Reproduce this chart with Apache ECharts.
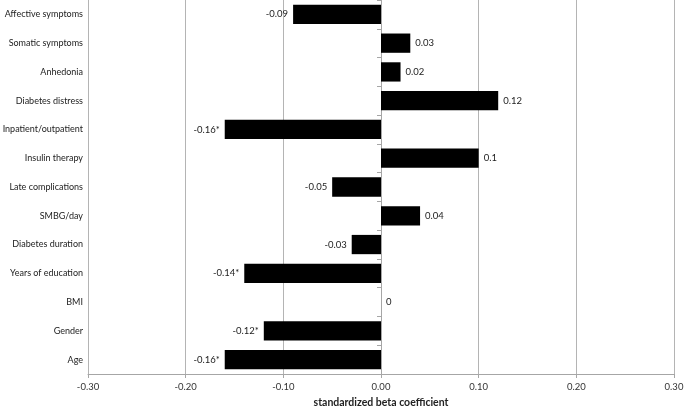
<!DOCTYPE html>
<html>
<head>
<meta charset="utf-8">
<script src="https://cdn.jsdelivr.net/npm/echarts@6/dist/echarts.min.js"></script>
<style>html,body{margin:0;padding:0;background:#fff}#c{width:685px;height:413px}</style>
</head>
<body>
<div id="c"></div>
<script>
var categories = ["Affective symptoms","Somatic symptoms","Anhedonia","Diabetes distress","Inpatient/outpatient","Insulin therapy","Late complications","SMBG/day","Diabetes duration","Years of education","BMI","Gender","Age"];
var values = [-0.09, 0.03, 0.02, 0.12, -0.16, 0.1, -0.05, 0.04, -0.03, -0.14, 0, -0.12, -0.16];
var significant = [false, false, false, false, true, false, false, false, false, true, false, true, true];
var xTicks = {min: -0.3, max: 0.3, interval: 0.1};
var xTitle = "standardized beta coefficient";

var FONT = "Lato";
var chart = echarts.init(document.getElementById('c'), null, {renderer: 'canvas'});
var data = values.map(function (v, i) {
  return {
    value: v,
    label: {position: v < 0 ? 'left' : 'right'}
  };
});
chart.setOption({
  animation: false,
  textStyle: {fontFamily: FONT},
  grid: {left: 88, right: 11, top: 0, bottom: 39, containLabel: false, outerBoundsMode: 'none'},
  xAxis: {
    type: 'value',
    min: xTicks.min, max: xTicks.max, interval: xTicks.interval,
    name: xTitle,
    nameLocation: 'middle',
    nameGap: 21,
    nameTextStyle: {fontFamily: FONT, fontSize: 10.5, fontWeight: 'bold', color: '#222'},
    axisLine: {show: true, onZero: false, lineStyle: {color: '#a6a6a6', width: 1}},
    axisTick: {show: true, length: 4, lineStyle: {color: '#a6a6a6'}},
    axisLabel: {fontFamily: FONT, fontSize: 9.5, color: '#333', margin: 8,
      formatter: function (v) { return v.toFixed(2); }},
    splitLine: {show: true, lineStyle: {color: '#b4b4b4', width: 1}}
  },
  yAxis: [{
    type: 'category',
    data: categories,
    inverse: true,
    axisLine: {show: true, onZero: true, lineStyle: {color: '#a6a6a6'}},
    axisTick: {show: true, length: 4, lineStyle: {color: '#a6a6a6'}},
    axisLabel: {show: false},
    splitLine: {show: false}
  }, {
    type: 'category',
    data: categories,
    inverse: true,
    position: 'left',
    axisLine: {show: false},
    axisTick: {show: false},
    axisLabel: {fontFamily: FONT, fontSize: 9, color: '#222', margin: 5},
    splitLine: {show: false}
  }],
  series: [{
    type: 'bar',
    yAxisIndex: 0,
    data: data,
    barCategoryGap: '33%',
    itemStyle: {color: '#000'},
    label: {
      show: true,
      distance: 5,
      fontFamily: FONT,
      fontSize: 9.5,
      color: '#222',
      formatter: function (p) {
        return String(p.value) + (significant[p.dataIndex] ? '*' : '');
      }
    }
  }]
});
</script>
</body>
</html>
